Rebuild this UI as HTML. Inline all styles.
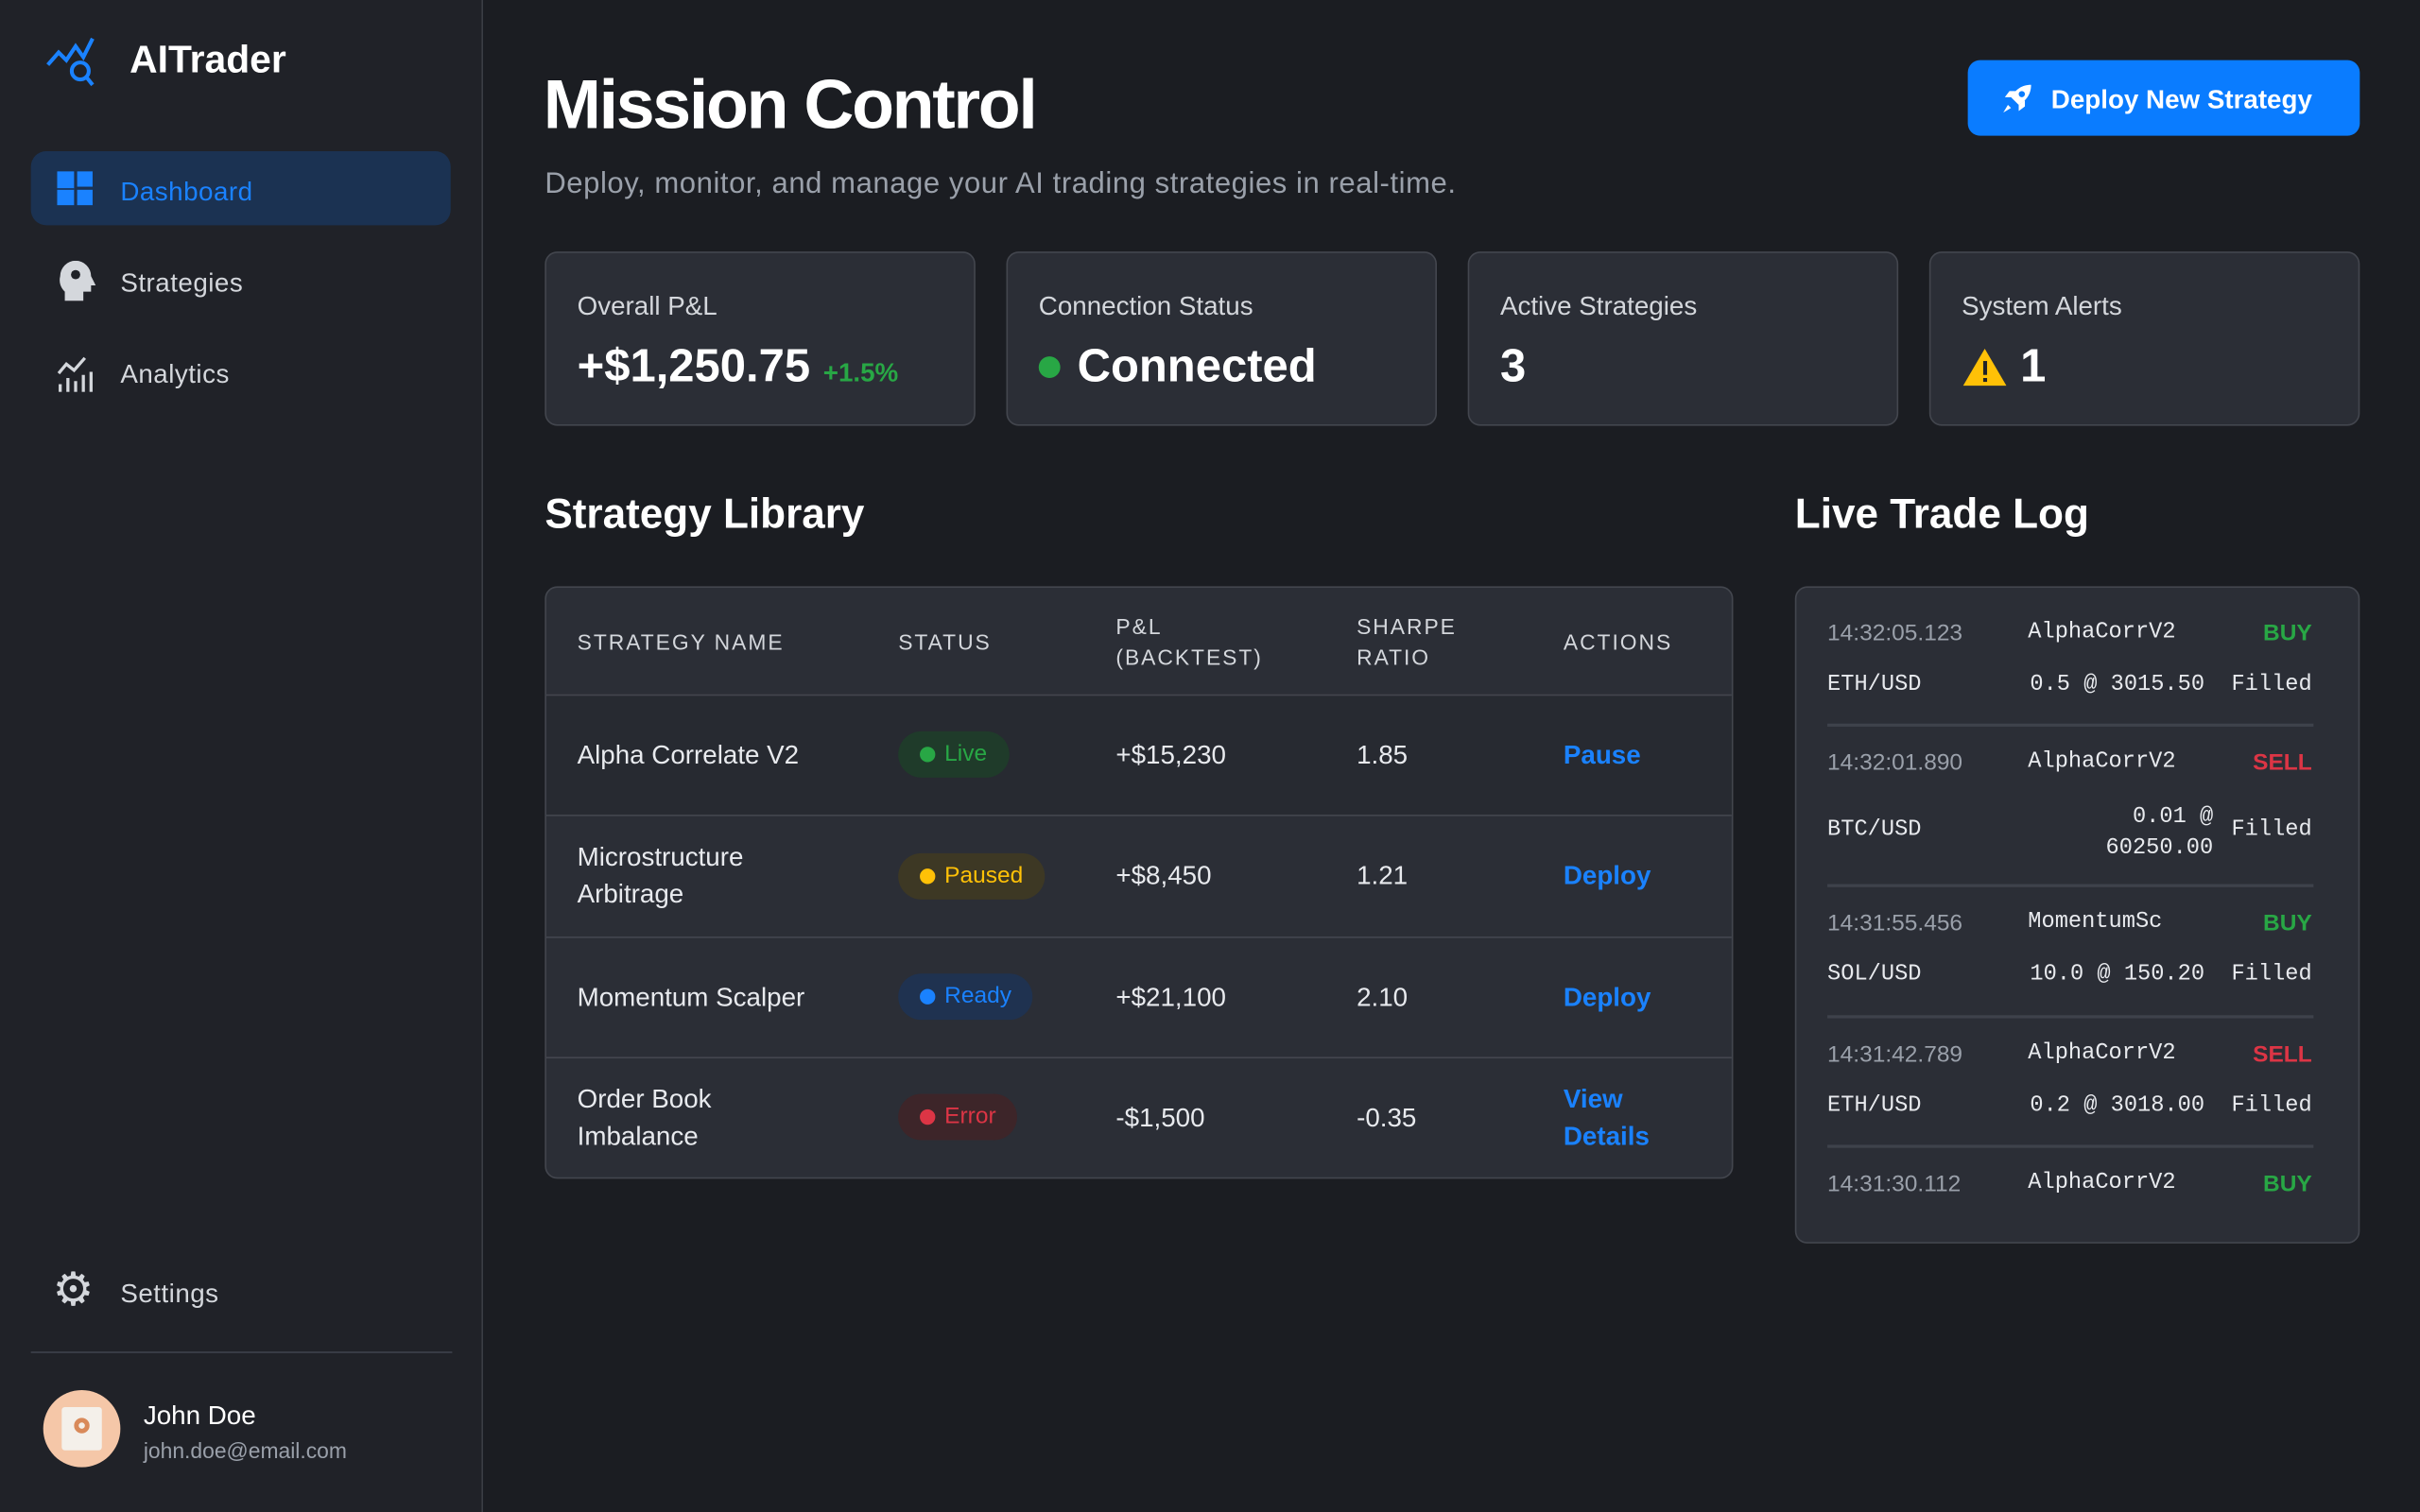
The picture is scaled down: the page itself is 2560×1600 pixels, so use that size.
<!DOCTYPE html>
<html><head><meta charset="utf-8"><style>
*{box-sizing:border-box;margin:0;padding:0}
html,body{width:2560px;height:1600px;overflow:hidden;background:#1b1d22}
#w{position:absolute;left:0;top:0;width:1568px;height:980px;transform:scale(1.632653);transform-origin:0 0;font-family:"Liberation Sans",sans-serif;color:#e8eaee;background:#1b1d22}
.a{position:absolute;white-space:nowrap}
#sb{position:absolute;left:0;top:0;width:313px;height:980px;background:#202228;border-right:1px solid #3a3d44}
.nav{font-size:17px;color:#d4d7dc;letter-spacing:0.3px}
.card{position:absolute;top:163px;width:279px;height:113px;background:#2b2e36;border:1px solid #43464e;border-radius:8px}
.card .l{position:absolute;left:20px;top:25px;font-size:17px;color:#d4d7dc}
.card .v{position:absolute;left:20px;top:57px;font-size:30px;font-weight:bold;color:#fff;white-space:nowrap}
.h2{font-size:27px;font-weight:bold;color:#fff}
#tb{position:absolute;left:353px;top:380px;width:770px;height:384px;background:#2b2e36;border:1px solid #43464e;border-radius:8px;overflow:hidden}
.th{font-size:14px;letter-spacing:1.2px;color:#d4d7dc;line-height:20px}
.row{position:absolute;left:0;width:770px;border-top:1px solid #43464e}
.td{font-size:17px;color:#e8eaee;line-height:24px}
.pill{position:absolute;height:30px;border-radius:15px;font-size:15px;padding:0 14px 0 30px;line-height:30px}
.pill:before{content:"";position:absolute;left:14px;top:10px;width:10px;height:10px;border-radius:5px;background:currentColor}
.act{font-size:17px;font-weight:bold;color:#1a82ff;line-height:24px}
#log{position:absolute;left:1163px;top:380px;width:366px;height:426px;background:#2b2e36;border:1px solid #43464e;border-radius:8px}
.m{font-family:"Liberation Mono",monospace;font-size:14.5px;color:#e8eaee}
.t{font-size:15px;color:#9aa0aa}
.sep{position:absolute;left:20px;width:315px;height:2px;background:#3e424b}
.buy{font-size:15px;font-weight:bold;color:#28a745}
.sell{font-size:15px;font-weight:bold;color:#dc3545}
</style></head><body><div id="w">
<div id="sb">
<svg class="a" style="left:30px;top:22px" width="36" height="36" viewBox="0 0 36 36"><polyline points="1,20 8,12 13,17 19,8 24,15 30,3" fill="none" stroke="#1a82ff" stroke-width="2.5"/><circle cx="22" cy="24" r="5.5" fill="none" stroke="#1a82ff" stroke-width="2.5"/><line x1="26" y1="28" x2="30" y2="33" stroke="#1a82ff" stroke-width="2.5"/></svg>
<div class="a" style="left:84px;top:25px;font-size:25px;font-weight:bold;color:#fff">AITrader</div>
<div class="a" style="left:20px;top:98px;width:272px;height:48px;border-radius:10px;background:#1b3252"></div>
<svg class="a" style="left:37px;top:111px" width="24" height="24"><rect x="0" y="0" width="11" height="22" fill="#1a82ff"/><rect x="13" y="0" width="10" height="10" fill="#1a82ff"/><rect x="13" y="12" width="10" height="10" fill="#1a82ff"/><rect x="0" y="11" width="11" height="1" fill="#1b3252"/></svg>
<div class="a nav" style="left:78px;top:115px;color:#1a82ff">Dashboard</div>
<svg class="a" style="left:37px;top:169px" width="26" height="26"><path d="M2 10a10 10 0 0 1 20 0l3 6h-3v4h-5v6H5v-6a10 10 0 0 1-3-10z" fill="#d4d7dc"/><circle cx="12" cy="9" r="3" fill="#202228"/></svg>
<div class="a nav" style="left:78px;top:174px">Strategies</div>
<svg class="a" style="left:37px;top:229px" width="26" height="26"><polyline points="1,13 6,7 11,11 18,3" fill="none" stroke="#d4d7dc" stroke-width="2"/><rect x="1" y="20" width="2" height="5" fill="#d4d7dc"/><rect x="6" y="16" width="2" height="9" fill="#d4d7dc"/><rect x="11" y="18" width="2" height="7" fill="#d4d7dc"/><rect x="16" y="14" width="2" height="11" fill="#d4d7dc"/><rect x="21" y="12" width="2" height="13" fill="#d4d7dc"/></svg>
<div class="a nav" style="left:78px;top:233px">Analytics</div>
<div class="a" style="left:34px;top:820px;font-size:30px;color:#d4d7dc;line-height:34px">⚙</div>
<div class="a nav" style="left:78px;top:829px">Settings</div>
<div class="a" style="left:20px;top:876px;width:273px;height:1px;background:#3e424b"></div>
<div class="a" style="left:28px;top:901px;width:50px;height:50px;border-radius:25px;background:#f5c7a8"></div>
<div class="a" style="left:40px;top:912px;width:26px;height:28px;background:#f4f0ea;border-radius:2px"></div>
<div class="a" style="left:48px;top:919px;width:10px;height:10px;border-radius:5px;border:3px solid #d98a5a"></div>
<div class="a" style="left:93px;top:908px;font-size:17px;color:#fff">John Doe</div>
<div class="a" style="left:93px;top:932px;font-size:14px;color:#9aa0aa">john.doe@email.com</div>
</div>

<div class="a" style="left:352px;top:42px;font-size:45px;font-weight:900;letter-spacing:-1.4px;color:#fff">Mission Control</div>
<div class="a" style="left:353px;top:109px;font-size:19px;color:#9aa0aa;letter-spacing:0.35px">Deploy, monitor, and manage your AI trading strategies in real-time.</div>
<div class="a" style="left:1275px;top:39px;width:254px;height:49px;border-radius:8px;background:#0a7cff"></div>
<svg class="a" style="left:1296px;top:53px" width="22" height="22" viewBox="0 0 22 22"><path d="M20 2c-6 0-10 3-13 8l5 5c5-3 8-7 8-13z" fill="#fff"/><circle cx="14" cy="8" r="2" fill="#0a7cff"/><path d="M7 10H3l3-4h4zM12 15v4l4-3v-4z" fill="#fff"/><path d="M5 15l-3 5 5-3z" fill="#fff"/></svg>
<div class="a" style="left:1329px;top:55px;font-size:17px;font-weight:bold;color:#fff">Deploy New Strategy</div>

<div class="card" style="left:353px"><div class="l">Overall P&amp;L</div><div class="v">+$1,250.75 <span style="font-size:17px;color:#28a745">+1.5%</span></div></div>
<div class="card" style="left:652px"><div class="l">Connection Status</div><div class="a" style="left:20px;top:67px;width:14px;height:14px;border-radius:7px;background:#28a745"></div><div class="v" style="left:45px">Connected</div></div>
<div class="card" style="left:951px"><div class="l">Active Strategies</div><div class="v">3</div></div>
<div class="card" style="left:1250px"><div class="l">System Alerts</div><svg class="a" style="left:20px;top:61px" width="30" height="26"><path d="M15 1L29 25H1z" fill="#ffc107"/><rect x="14" y="9" width="2.5" height="9" fill="#202228"/><rect x="14" y="20" width="2.5" height="2.5" fill="#202228"/></svg><div class="v" style="left:58px">1</div></div>

<div class="a h2" style="left:353px;top:318px">Strategy Library</div>
<div class="a h2" style="left:1163px;top:318px">Live Trade Log</div>

<div id="tb">
<div class="a th" style="left:20px;top:25px">STRATEGY NAME</div>
<div class="a th" style="left:228px;top:25px">STATUS</div>
<div class="a th" style="left:369px;top:15px">P&amp;L<br>(BACKTEST)</div>
<div class="a th" style="left:525px;top:15px">SHARPE<br>RATIO</div>
<div class="a th" style="left:659px;top:25px">ACTIONS</div>
<div class="row" style="top:69px;height:79px;background:#272a31">
<div class="a td" style="left:20px;top:27px">Alpha Correlate V2</div>
<div class="pill" style="left:228px;top:23px;background:#1f3b2a;color:#28a745">Live</div>
<div class="a td" style="left:369px;top:27px">+$15,230</div>
<div class="a td" style="left:525px;top:27px">1.85</div>
<div class="a act" style="left:659px;top:27px">Pause</div></div>
<div class="row" style="top:147px;height:79px">
<div class="a td" style="left:20px;top:15px">Microstructure<br>Arbitrage</div>
<div class="pill" style="left:228px;top:24px;background:#3d3824;color:#ffc107">Paused</div>
<div class="a td" style="left:369px;top:27px">+$8,450</div>
<div class="a td" style="left:525px;top:27px">1.21</div>
<div class="a act" style="left:659px;top:27px">Deploy</div></div>
<div class="row" style="top:226px;height:79px">
<div class="a td" style="left:20px;top:27px">Momentum Scalper</div>
<div class="pill" style="left:228px;top:23px;background:#1f3250;color:#1a82ff">Ready</div>
<div class="a td" style="left:369px;top:27px">+$21,100</div>
<div class="a td" style="left:525px;top:27px">2.10</div>
<div class="a act" style="left:659px;top:27px">Deploy</div></div>
<div class="row" style="top:304px;height:80px">
<div class="a td" style="left:20px;top:15px">Order Book<br>Imbalance</div>
<div class="pill" style="left:228px;top:23px;background:#3d2529;color:#dc3545">Error</div>
<div class="a td" style="left:369px;top:27px">-$1,500</div>
<div class="a td" style="left:525px;top:27px">-0.35</div>
<div class="a act" style="left:659px;top:15px">View<br>Details</div></div>
</div>

<div id="log">
<div class="a t" style="left:20px;top:21px">14:32:05.123</div><div class="a m" style="left:150px;top:21px">AlphaCorrV2</div><div class="a buy" style="right:30px;top:21px">BUY</div>
<div class="a m" style="left:20px;top:55px">ETH/USD</div><div class="a m" style="right:30px;top:55px">0.5 @ 3015.50&nbsp; Filled</div>
<div class="sep" style="top:88px"></div>
<div class="a t" style="left:20px;top:105px">14:32:01.890</div><div class="a m" style="left:150px;top:105px">AlphaCorrV2</div><div class="a sell" style="right:30px;top:105px">SELL</div>
<div class="a m" style="right:94px;top:139px;text-align:right;line-height:20px">0.01 @<br>60250.00</div><div class="a m" style="left:20px;top:149px">BTC/USD</div><div class="a m" style="right:30px;top:149px">Filled</div>
<div class="sep" style="top:192px"></div>
<div class="a t" style="left:20px;top:209px">14:31:55.456</div><div class="a m" style="left:150px;top:209px">MomentumSc</div><div class="a buy" style="right:30px;top:209px">BUY</div>
<div class="a m" style="left:20px;top:243px">SOL/USD</div><div class="a m" style="right:30px;top:243px">10.0 @ 150.20&nbsp; Filled</div>
<div class="sep" style="top:277px"></div>
<div class="a t" style="left:20px;top:294px">14:31:42.789</div><div class="a m" style="left:150px;top:294px">AlphaCorrV2</div><div class="a sell" style="right:30px;top:294px">SELL</div>
<div class="a m" style="left:20px;top:328px">ETH/USD</div><div class="a m" style="right:30px;top:328px">0.2 @ 3018.00&nbsp; Filled</div>
<div class="sep" style="top:361px"></div>
<div class="a t" style="left:20px;top:378px">14:31:30.112</div><div class="a m" style="left:150px;top:378px">AlphaCorrV2</div><div class="a buy" style="right:30px;top:378px">BUY</div>
</div>
</div></body></html>
